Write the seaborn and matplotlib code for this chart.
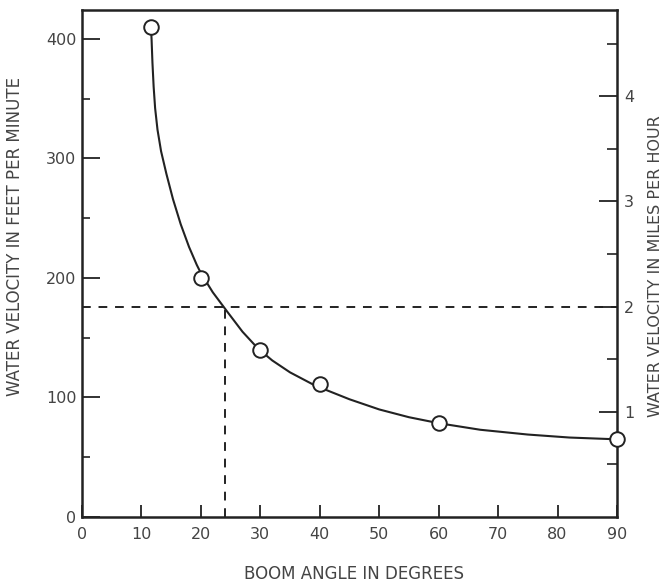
import matplotlib
matplotlib.use("Agg")
import matplotlib.pyplot as plt
import seaborn as sns
import pandas as pd

# measured points (open circles)
angle_deg = [11.6, 20, 30, 40, 60, 90]
velocity_fpm = [410, 200, 140, 111, 79, 65]

# fitted curve
curve_angle = [11.6, 11.7, 11.85, 12.05, 12.3, 12.7, 13.3, 14.2, 15.3, 16.6,
               18.0, 19.3, 20.0, 22.0, 24.4, 27.0, 29.6, 32.0, 35.0, 39.2,
               45.0, 50.0, 55.0, 60.0, 67.0, 75.0, 82.0, 90.0]
curve_fpm = [410, 400, 380, 360, 342, 324, 306, 287, 266, 245,
             226, 211, 204, 188, 172, 155, 141, 131, 121, 110,
             98.5, 90, 83.5, 78.5, 73, 69, 66.5, 65]

# reading example (dashed guide lines)
guide_angle = 24
guide_fpm = 176
FPM_PER_MPH = 88

x_ticks = [0, 10, 20, 30, 40, 50, 60, 70, 80, 90]
y_ticks = [0, 100, 200, 300, 400]
y_minor = [50, 150, 250, 350]
mph_ticks = [1, 2, 3, 4]
mph_minor = [0.5, 1.5, 2.5, 3.5, 4.5]

sns.set_theme(style="ticks")
plt.rcParams["font.family"] = ["DejaVu Sans"]

ink = "#222222"
text_col = "#444444"

fig = plt.figure(figsize=(6.7, 5.88), dpi=100)
ax = fig.add_axes([0.1224, 0.1207, 0.7985, 0.862])

curve_df = pd.DataFrame({"angle": curve_angle, "fpm": curve_fpm})
pts_df = pd.DataFrame({"angle": angle_deg, "fpm": velocity_fpm})

# dashed guide lines
ax.plot([0, 90], [guide_fpm, guide_fpm], color=ink, lw=1.4,
        dashes=(4.5, 4), zorder=1)
ax.plot([guide_angle, guide_angle], [0, guide_fpm], color=ink, lw=1.4,
        dashes=(4.5, 4), zorder=1)

sns.lineplot(data=curve_df, x="angle", y="fpm", ax=ax, color=ink,
             lw=1.5, sort=False, zorder=2)
sns.scatterplot(data=pts_df, x="angle", y="fpm", ax=ax, s=110,
                facecolor="white", edgecolor=ink, linewidth=1.4, zorder=3,
                clip_on=False)

ax.set_xlim(0, 90)
ax.set_ylim(0, 424)
ax.set_xticks(x_ticks)
ax.set_yticks(y_ticks)
ax.set_yticks(y_minor, minor=True)

ax.tick_params(axis="x", direction="in", length=9, width=1.3, pad=7,
               colors=ink, labelsize=11.5, labelcolor=text_col)
ax.tick_params(axis="y", which="major", direction="in", length=13, width=1.3,
               pad=4, colors=ink, labelsize=11.5, labelcolor=text_col)
ax.tick_params(axis="y", which="minor", direction="in", length=6, width=1.2,
               colors=ink)

for side in ["left", "right", "top", "bottom"]:
    ax.spines[side].set_visible(True)
    ax.spines[side].set_color(ink)
    ax.spines[side].set_linewidth(1.8)

ax.set_xlabel("BOOM ANGLE IN DEGREES", fontsize=12, color=text_col)
ax.xaxis.set_label_coords(0.508, -0.095)
ax.set_ylabel("WATER VELOCITY IN FEET PER MINUTE", fontsize=12,
              color=text_col)
ax.yaxis.set_label_coords(-0.108, 0.554)

# second scale: miles per hour
ax2 = ax.twinx()
ax2.set_ylim(0, 424 / FPM_PER_MPH)
ax2.set_yticks(mph_ticks)
ax2.set_yticks(mph_minor, minor=True)
ax2.tick_params(axis="y", which="major", direction="in", length=13, width=1.3,
                pad=5, colors=ink, labelsize=11.5, labelcolor=text_col)
ax2.tick_params(axis="y", which="minor", direction="in", length=7, width=1.2,
                colors=ink)
for side in ["left", "right", "top", "bottom"]:
    ax2.spines[side].set_visible(False)
ax2.set_ylabel("WATER VELOCITY IN MILES PER HOUR", fontsize=11.5,
               color=text_col, rotation=90, va="center")
ax2.yaxis.set_label_position("right")
ax2.yaxis.set_label_coords(1.058, 0.495)

fig.savefig("out.png", dpi=100)
